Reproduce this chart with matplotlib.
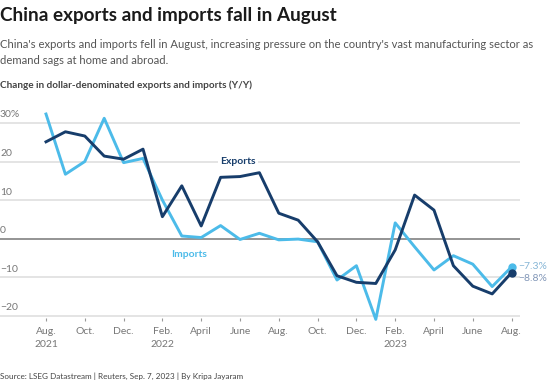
import matplotlib.pyplot as plt
import numpy as np

plt.rcParams['font.family'] = ['Lato', 'DejaVu Sans']

# Monthly Y/Y change, Aug 2021 .. Aug 2023
months = ['Aug.\n2021', 'Sep.', 'Oct.', 'Nov.', 'Dec.', 'Jan.', 'Feb.\n2022', 'Mar.', 'April', 'May', 'June', 'July',
          'Aug.', 'Sep.', 'Oct.', 'Nov.', 'Dec.', 'Jan.', 'Feb.\n2023', 'Mar.', 'April', 'May', 'June', 'July', 'Aug.']
exports = [25.1, 27.7, 26.6, 21.4, 20.6, 23.2, 5.7, 13.7, 3.3, 15.9, 16.1, 17.1,
           6.6, 4.8, -0.8, -9.6, -11.3, -11.6, -2.9, 11.3, 7.4, -7.0, -12.3, -14.3, -8.8]
imports = [32.3, 16.7, 20.0, 31.2, 19.7, 20.8, 10.0, 0.7, 0.3, 3.4, -0.2, 1.4,
           -0.3, -0.1, -0.8, -10.7, -7.0, -20.9, 4.1, -2.1, -8.1, -4.4, -6.6, -12.4, -7.3]
yticks = [30, 20, 10, 0, -10, -20]
ytick_labels = ['30%', '20', '10', '0', '\u221210', '\u221220']

c_exp = '#173d6b'
c_imp = '#4cbbe9'

W, H = 554, 382
fig = plt.figure(figsize=(W / 100, H / 100), dpi=100)
fig.patch.set_facecolor('white')

# axes placed in pixel terms
ax_left, ax_right, ax_top, ax_bot = 0, 520, 111.3, 318
ax = fig.add_axes([ax_left / W, 1 - ax_bot / H, (ax_right - ax_left) / W, (ax_bot - ax_top) / H])
x = np.arange(len(months))
ax.set_xlim(-46 / 19.4, (520 - 46) / 19.4)
ax.set_ylim((238.7 - ax_bot) / 3.86, (238.7 - ax_top) / 3.86)

for v in yticks:
    ax.axhline(v, color='#777777' if v == 0 else '#dcdcdc', lw=1.1, zorder=1)
for v, lab in zip(yticks, ytick_labels):
    ax.annotate(lab, xy=(0, v), xycoords=ax.get_yaxis_transform(), xytext=(0, 2.5),
                textcoords='offset points', ha='left', va='bottom', fontsize=7.5, color='#777777')

ax.plot(x, imports, color=c_imp, lw=2.1, zorder=3, clip_on=False)
ax.plot(x, exports, color=c_exp, lw=2.1, zorder=4, clip_on=False)
ax.plot(x[-1], imports[-1], 'o', color=c_imp, ms=5, zorder=5, clip_on=False)
ax.plot(x[-1], exports[-1], 'o', color=c_exp, ms=5, zorder=6, clip_on=False)

ax.text(9.9, 19.9, 'Exports', color=c_exp, fontsize=7.5, fontweight='bold', ha='center', va='center',
        zorder=2, bbox=dict(fc='white', ec='none', pad=1.5))
ax.text(7.4, -4.0, 'Imports', color=c_imp, fontsize=7.5, fontweight='bold', ha='center', va='center', zorder=2)

ax.annotate('\u22127.3%', xy=(x[-1], imports[-1]), xytext=(5, 0), textcoords='offset points',
            ha='left', va='center', fontsize=7.5, color='#86b6d6', annotation_clip=False)
ax.annotate('\u22128.8%', xy=(x[-1], exports[-1]), xytext=(5, -4), textcoords='offset points',
            ha='left', va='center', fontsize=7.5, color='#8297b8', annotation_clip=False)

ax.set_xticks(x[::2])
ax.set_xticklabels(months[::2], fontsize=7.5, color='#777777', linespacing=1.5)
ax.tick_params(axis='x', length=2.5, width=0.8, color='#999999', pad=4)
ax.set_yticks([])
for s in ax.spines.values():
    s.set_visible(False)

def px(xp, yp):
    return xp / W, 1 - yp / H

fig.text(*px(0, 16), 'China exports and imports fall in August', fontsize=13.6, fontweight='bold',
         color='#1a1a1a', ha='left', va='center')
fig.text(*px(0, 44), "China's exports and imports fell in August, increasing pressure on the country's vast manufacturing sector as",
         fontsize=8.1, color='#555555', ha='left', va='center')
fig.text(*px(0, 60), 'demand sags at home and abroad.', fontsize=8.1, color='#555555', ha='left', va='center')
fig.text(*px(0, 85), 'Change in dollar-denominated exports and imports (Y/Y)', fontsize=7.2, fontweight='bold',
         color='#444444', ha='left', va='center')
fig.text(*px(0, 376), 'Source: LSEG Datastream | Reuters, Sep. 7, 2023 | By Kripa Jayaram', fontsize=5.9,
         color='#444444', ha='left', va='center')

fig.savefig('out.png', dpi=100)
